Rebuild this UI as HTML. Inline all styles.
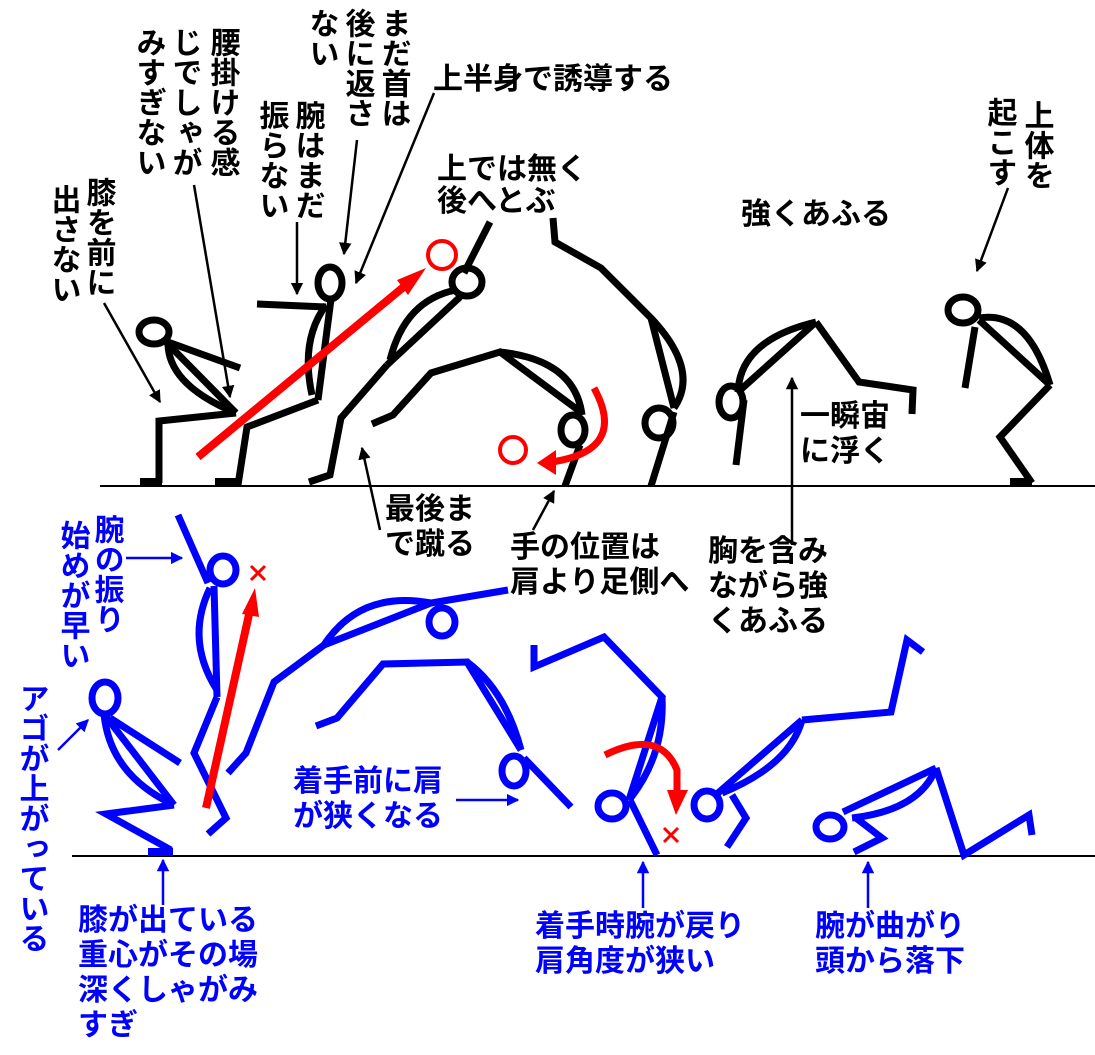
<!DOCTYPE html>
<html><head><meta charset="utf-8">
<style>
html,body{margin:0;padding:0;background:#fff;}
svg{display:block;}
text{font-family:"Liberation Sans","Noto Sans CJK JP",sans-serif;font-size:30px;font-weight:bold;}
.v{writing-mode:vertical-rl;}
</style></head><body>
<svg width="1095" height="1055" viewBox="0 0 1095 1055" xmlns="http://www.w3.org/2000/svg">
<defs>
<marker id="ak" viewBox="0 0 10 10" refX="9" refY="5" markerWidth="5" markerHeight="5" orient="auto" markerUnits="strokeWidth"><path d="M0,0 L10,5 L0,10 z" fill="#000"/></marker>
<marker id="ab" viewBox="0 0 10 10" refX="9" refY="5" markerWidth="5" markerHeight="5" orient="auto" markerUnits="strokeWidth"><path d="M0,0 L10,5 L0,10 z" fill="#00f"/></marker>
</defs>

<line x1="100" y1="486" x2="1095" y2="486" stroke="#000" stroke-width="2"/>
<line x1="72" y1="856" x2="1095" y2="856" stroke="#000" stroke-width="2"/>

<g fill="none" stroke="#000" stroke-width="7" stroke-linejoin="miter">
<ellipse cx="154" cy="332" rx="15" ry="12"/>
<line x1="166" y1="342" x2="236" y2="413"/>
<path d="M168,343 Q168,385 236,413"/>
<line x1="168" y1="342" x2="240" y2="368"/>
<polyline points="236,413 159,421 159,483"/>
<ellipse cx="330" cy="283" rx="12" ry="16"/>
<line x1="257" y1="304" x2="326" y2="307"/>
<line x1="331" y1="299" x2="318" y2="400"/>
<path d="M326,305 Q300,340 312,395"/>
<polyline points="318,400 247,427 238,485"/>
<line x1="490" y1="222" x2="464" y2="273"/>
<ellipse cx="467" cy="282" rx="15" ry="14"/>
<line x1="460" y1="297" x2="387" y2="365"/>
<path d="M456,290 Q405,300 390,360"/>
<polyline points="387,365 341,418 330,475 309,482"/>
<polyline points="372,424 393,415 431,373 500,352 582,413"/>
<path d="M500,352 Q575,360 582,415"/>
<ellipse cx="573" cy="430" rx="12" ry="15"/>
<line x1="580" y1="445" x2="565" y2="486"/>
<polyline points="553,218 555,242 601,268 651,318 674,408"/>
<path d="M651,318 Q700,370 674,408"/>
<ellipse cx="659" cy="423" rx="14" ry="15"/>
<line x1="674" y1="412" x2="651" y2="486"/>
<ellipse cx="731" cy="402" rx="12" ry="16"/>
<line x1="744" y1="400" x2="736" y2="465"/>
<line x1="738" y1="392" x2="816" y2="322"/>
<path d="M738,392 Q740,340 816,322"/>
<polyline points="816,322 859,382 913,390 912,414"/>
<ellipse cx="963" cy="310" rx="15" ry="13"/>
<line x1="975" y1="327" x2="965" y2="388"/>
<line x1="979" y1="320" x2="1050" y2="385"/>
<path d="M979,318 Q1028,310 1050,385"/>
<polyline points="1050,385 1000,437 1032,483"/>
</g>
<rect x="140" y="478" width="22" height="8" fill="#000"/>
<rect x="215" y="478" width="24" height="8" fill="#000"/>
<rect x="1010" y="478" width="22" height="8" fill="#000"/>

<g stroke="#000" stroke-width="2.5" fill="none" marker-end="url(#ak)">
<line x1="104" y1="303" x2="160" y2="402"/>
<line x1="194" y1="185" x2="230" y2="397"/>
<line x1="297" y1="222" x2="297" y2="294"/>
<line x1="357" y1="140" x2="344" y2="254"/>
<line x1="434" y1="93" x2="356" y2="283"/>
<line x1="1008" y1="188" x2="977" y2="271"/>
<line x1="380" y1="530" x2="362" y2="448"/>
<line x1="533" y1="530" x2="554" y2="491"/>
<line x1="792" y1="545" x2="792" y2="378"/>
</g>

<g stroke="#f00" fill="none">
<line x1="198" y1="457" x2="412" y2="280" stroke-width="8"/>
<circle cx="442" cy="255" r="14" stroke-width="4"/>
<circle cx="513" cy="450" r="13" stroke-width="4"/>
<path d="M594,388 Q628,450 552,462" stroke-width="7"/>
</g>
<polygon points="426,268 397,280 408,295" fill="#f00"/>
<polygon points="537,463 556,450 556,475" fill="#f00"/>

<g fill="none" stroke="#00f" stroke-width="7">
<ellipse cx="105" cy="698" rx="13" ry="16"/>
<line x1="104" y1="714" x2="174" y2="805"/>
<path d="M104,714 Q110,775 174,805"/>
<line x1="110" y1="718" x2="180" y2="763"/>
<polyline points="174,805 106,814 171,850"/>
<line x1="178" y1="515" x2="208" y2="583"/>
<ellipse cx="223" cy="570" rx="13" ry="14"/>
<line x1="214" y1="586" x2="217" y2="697"/>
<path d="M210,588 Q185,640 217,690"/>
<polyline points="217,697 194,753 226,818 208,834"/>
<polyline points="228,773 246,753 274,682 324,645 431,603 508,590"/>
<path d="M324,645 Q360,590 431,603"/>
<ellipse cx="442" cy="622" rx="13" ry="14"/>
<polyline points="316,726 337,718 383,664 467,662 521,750"/>
<path d="M467,662 Q505,690 521,750"/>
<ellipse cx="514" cy="771" rx="12" ry="15"/>
<line x1="524" y1="758" x2="571" y2="807"/>
<polyline points="534,645 534,667 604,637 662,697 629,800"/>
<path d="M662,697 Q665,755 629,800"/>
<ellipse cx="612" cy="806" rx="14" ry="13"/>
<line x1="630" y1="800" x2="657" y2="855"/>
<ellipse cx="707" cy="805" rx="13" ry="14"/>
<line x1="718" y1="793" x2="802" y2="720"/>
<path d="M722,793 Q790,765 802,720"/>
<polyline points="802,720 891,712 907,640 923,652"/>
<polyline points="732,795 746,818 727,847"/>
<ellipse cx="830" cy="827" rx="14" ry="12"/>
<line x1="843" y1="812" x2="936" y2="768"/>
<path d="M852,818 Q920,810 936,768"/>
<polyline points="936,768 964,855 1029,815 1032,835"/>
<polyline points="856,818 882,838 854,852"/>
</g>
<rect x="148" y="848" width="25" height="8" fill="#00f"/>

<g stroke="#00f" stroke-width="2.5" fill="none" marker-end="url(#ab)">
<line x1="126" y1="558" x2="182" y2="558"/>
<line x1="58" y1="750" x2="88" y2="720"/>
<line x1="456" y1="800" x2="518" y2="800"/>
<line x1="163" y1="905" x2="163" y2="860"/>
<line x1="643" y1="908" x2="643" y2="862"/>
<line x1="868" y1="908" x2="868" y2="862"/>
</g>

<line x1="206" y1="808" x2="250" y2="610" stroke="#f00" stroke-width="8"/>
<polygon points="255,588 242,614 259,617" fill="#f00"/>
<path d="M605,755 Q660,728 677,770 L677,790" stroke="#f00" stroke-width="7" fill="none"/>
<polygon points="667,790 688,790 676,815" fill="#f00"/>
<g stroke="#f00" stroke-width="3">
<line x1="251" y1="566" x2="265" y2="580"/><line x1="265" y1="566" x2="251" y2="580"/>
<line x1="664" y1="828" x2="678" y2="842"/><line x1="678" y1="828" x2="664" y2="842"/>
</g>

<g fill="#000">
<text class="v" x="98" y="177">膝を前に</text>
<text class="v" x="63" y="184">出さない</text>
<text class="v" x="222" y="27">腰掛ける感</text>
<text class="v" x="184" y="27">じでしゃが</text>
<text class="v" x="148" y="27">みすぎない</text>
<text class="v" x="307" y="100">腕はまだ</text>
<text class="v" x="271" y="100">振らない</text>
<text class="v" x="393" y="8">まだ首は</text>
<text class="v" x="357" y="8">後に返さ</text>
<text class="v" x="321" y="8">ない</text>
<text x="433" y="89">上半身で誘導する</text>
<text x="437" y="179">上では無く</text>
<text x="437" y="211">後へとぶ</text>
<text x="741" y="224">強くあふる</text>
<text class="v" x="1036" y="100">上体を</text>
<text class="v" x="999" y="97">起こす</text>
<text x="800" y="426">一瞬宙</text>
<text x="800" y="461">に浮く</text>
<text x="385" y="519">最後ま</text>
<text x="385" y="554">で蹴る</text>
<text x="510" y="557">手の位置は</text>
<text x="510" y="592">肩より足側へ</text>
<text x="708" y="561">胸を含み</text>
<text x="708" y="596">ながら強</text>
<text x="708" y="631">くあふる</text>
</g>
<g fill="#00f">
<text class="v" x="106" y="514">腕の振り</text>
<text class="v" x="72" y="520">始めが早い</text>
<text class="v" x="31" y="683">アゴが上がっている</text>
<text x="78" y="930">膝が出ている</text>
<text x="78" y="965">重心がその場</text>
<text x="78" y="1000">深くしゃがみ</text>
<text x="78" y="1035">すぎ</text>
<text x="293" y="791">着手前に肩</text>
<text x="293" y="826">が狭くなる</text>
<text x="535" y="936">着手時腕が戻り</text>
<text x="535" y="971">肩角度が狭い</text>
<text x="815" y="936">腕が曲がり</text>
<text x="815" y="971">頭から落下</text>
</g>
</svg>
</body></html>
